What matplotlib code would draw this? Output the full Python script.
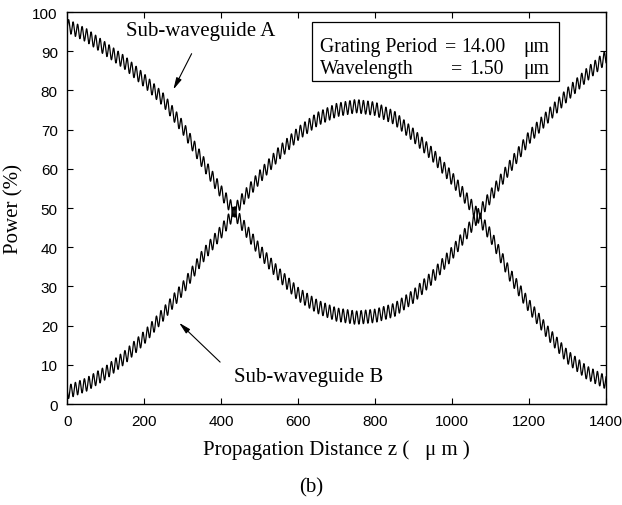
import numpy as np
import matplotlib
matplotlib.use("Agg")
import matplotlib.pyplot as plt
from matplotlib.patches import Rectangle

# mean power envelopes (%) read every 50 um
z_pts = np.arange(0, 1401, 50)
env_a = np.array([96.5, 94, 90.5, 87, 82.5, 77.5, 70.5, 62, 54, 46.5, 39, 33, 28, 24.8, 22.8,
                  22, 22.5, 24, 27.5, 32.5, 38.5, 45.5, 53, 60.5, 68, 73.5, 79, 84, 88.5])
env_b = np.array([3, 5, 8, 12, 17, 23, 29.5, 37.5, 44, 51.5, 58, 64, 69, 72.7, 75,
                  76, 75.3, 73, 68.5, 63.5, 57.5, 50.5, 43, 33, 25, 18, 12, 8, 5.5])

grating_period = 14.00   # um
wavelength = 1.50        # um
ripple_period = 11.7     # um, fast power exchange
ripple_amp = 1.7         # %

xticks = np.arange(0, 1401, 200)
yticks = np.arange(0, 101, 10)

z = np.linspace(0, 1400, 12001)
ripple = ripple_amp * np.sin(2 * np.pi * z / ripple_period)
p_a = np.interp(z, z_pts, env_a) + ripple
p_b = np.interp(z, z_pts, env_b) - ripple

serif = "Liberation Serif"
sans = "Liberation Sans"

fig = plt.figure(figsize=(6.22, 5.06), dpi=100)
ax = fig.add_axes([0.1085, 0.1996, 0.8658, 0.7747])

ax.plot(z, p_a, color="black", lw=0.9)
ax.plot(z, p_b, color="black", lw=0.9)

ax.set_xlim(0, 1400)
ax.set_ylim(0, 100)
ax.set_xticks(xticks)
ax.set_yticks(yticks)
ax.tick_params(direction="in", top=True, right=True, length=4, width=0.8, pad=7)
for lab in ax.get_xticklabels() + ax.get_yticklabels():
    lab.set_fontfamily(sans)
    lab.set_fontsize(11)
for s in ax.spines.values():
    s.set_linewidth(1.0)

ax.set_xlabel("Propagation Distance z (   \u03bc m )", fontfamily=serif, fontsize=15, labelpad=8)
ax.set_ylabel("Power (%)", fontfamily=serif, fontsize=15, labelpad=6)

# curve labels with arrows
arrow = dict(arrowstyle="-|>,head_length=0.7,head_width=0.17", color="black", lw=0.8)
ax.annotate("", xy=(272, 79.6), xytext=(326, 90), arrowprops=arrow)
ax.text(345, 95.2, "Sub-waveguide A", fontfamily=serif, fontsize=15, ha="center", va="center")
ax.annotate("", xy=(285, 21.2), xytext=(402, 10.2), arrowprops=arrow)
ax.text(626, 7.1, "Sub-waveguide B", fontfamily=serif, fontsize=15, ha="center", va="center")

# parameter box
ax.add_patch(Rectangle((0.454, 0.824), 0.459, 0.150, transform=ax.transAxes,
                       fill=True, facecolor="white", edgecolor="black", lw=0.9, zorder=3))
rows = [("Grating Period", 0.913, 0.712, f"{grating_period:.2f}", 0.814),
        ("Wavelength", 0.855, 0.722, f"{wavelength:.2f}", 0.811)]
for name, yy, xeq, val, xval in rows:
    kw = dict(transform=ax.transAxes, fontfamily=serif, fontsize=14.2, va="center", zorder=4)
    ax.text(0.468, yy, name, ha="left", **kw)
    ax.text(xeq, yy, "=", ha="center", **kw)
    ax.text(xval, yy, val, ha="right", **kw)
    ax.text(0.846, yy, "\u03bcm", ha="left", **kw)

fig.text(0.5, 0.035, "(b)", fontfamily=serif, fontsize=15, ha="center", va="center")

fig.savefig("out.png", dpi=100)
